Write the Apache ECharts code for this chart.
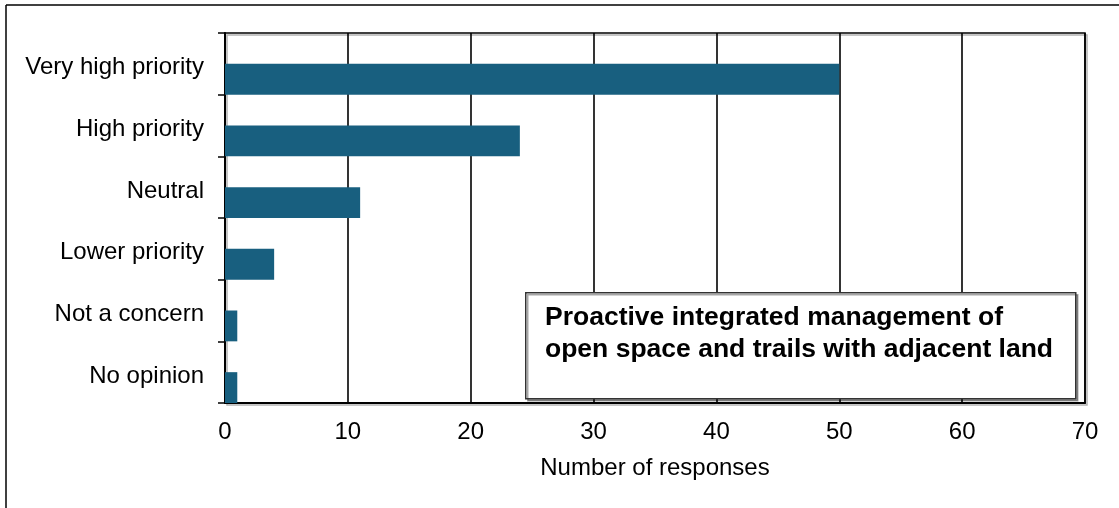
<!DOCTYPE html>
<html>
<head>
<meta charset="utf-8">
<script src="https://cdn.jsdelivr.net/npm/echarts@6/dist/echarts.min.js"></script>
<style>
html,body{margin:0;padding:0;background:#fff;}
#chart{width:1119px;height:508px;}
</style>
</head>
<body>
<div id="chart"></div>
<script>
const categories = ['Very high priority', 'High priority', 'Neutral', 'Lower priority', 'Not a concern', 'No opinion'];
const responses = [50, 24, 11, 4, 1, 1];
const xTicks = [0, 10, 20, 30, 40, 50, 60, 70];
const xAxisTitle = 'Number of responses';
const annotationLines = ['Proactive integrated management of', 'open space and trails with adjacent land'];

const FONT = '"Liberation Sans", Arial, sans-serif';
const chart = echarts.init(document.getElementById('chart'), null, {renderer: 'canvas'});

chart.setOption({
  animation: false,
  backgroundColor: '#fff',
  grid: {
    left: 225, top: 33, right: 34, bottom: 105,
    show: true, borderColor: '#000', borderWidth: 1.5,
    backgroundColor: 'transparent',
    shadowColor: 'rgba(0,0,0,0.3)', shadowOffsetX: 2, shadowOffsetY: 2, shadowBlur: 0
  },
  xAxis: {
    type: 'value',
    min: xTicks[0], max: xTicks[xTicks.length - 1], interval: 10,
    axisLine: {show: true, lineStyle: {color: '#000', width: 2}},
    axisTick: {show: false},
    splitLine: {show: true, lineStyle: {color: '#000', width: 1.6}},
    axisLabel: {fontSize: 24, color: '#000', fontFamily: FONT, margin: 17},
    name: xAxisTitle, nameLocation: 'middle', nameGap: 53,
    nameTextStyle: {fontSize: 24, color: '#000', fontFamily: FONT}
  },
  yAxis: {
    type: 'category',
    data: categories,
    inverse: true,
    axisLine: {show: true, lineStyle: {color: '#000', width: 2}},
    axisTick: {show: true, length: 7, lineStyle: {color: '#000', width: 1.5}},
    axisLabel: {
      margin: 21,
      formatter: v => '{c|' + v + '}',
      rich: {c: {fontSize: 24, color: '#000', fontFamily: FONT, padding: [8, 0, 0, 0]}}
    },
    splitLine: {show: false}
  },
  series: [
    {
      type: 'bar', name: 'pad', data: categories.map(() => '-'),
      barGap: '0%', barCategoryGap: '0%', silent: true
    },
    {
      type: 'bar', name: 'Responses', data: responses,
      barGap: '0%', barCategoryGap: '0%',
      itemStyle: {color: '#185f7f'}
    }
  ],
  graphic: [
    {type: 'line', shape: {x1: 6, y1: 5, x2: 6, y2: 508}, style: {stroke: '#000', lineWidth: 1.5}},
    {type: 'line', shape: {x1: 6, y1: 5, x2: 1119, y2: 5}, style: {stroke: '#000', lineWidth: 1.5}},
    {
      type: 'rect', left: 525, top: 292, z: 10,
      shape: {width: 550, height: 106},
      style: {fill: '#fff', stroke: '#333', lineWidth: 1.5,
        shadowColor: 'rgba(0,0,0,0.35)', shadowOffsetX: 2, shadowOffsetY: 2, shadowBlur: 0}
    },
    {
      type: 'text', left: 545, top: 302, z: 11,
      style: {text: annotationLines.join('\n'), fill: '#000', font: 'bold 26.5px ' + FONT, lineHeight: 32}
    }
  ]
});
</script>
</body>
</html>
